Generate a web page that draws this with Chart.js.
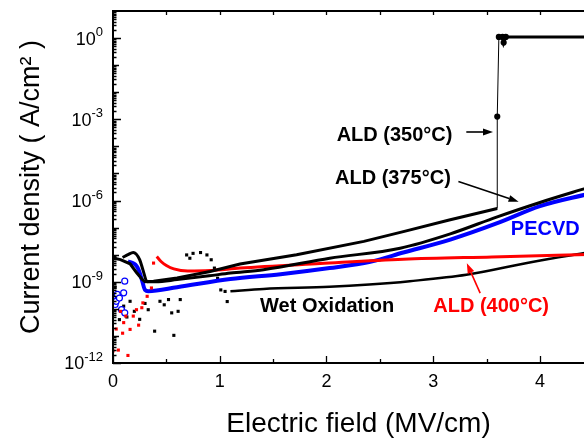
<!DOCTYPE html>
<html>
<head>
<meta charset="utf-8">
<script src="https://cdn.jsdelivr.net/npm/chart.js@4.4.1/dist/chart.umd.min.js"></script>
<style>
  html, body { margin: 0; padding: 0; background: #fff; overflow: hidden; }
  canvas { display: block; }
</style>
</head>
<body>
<canvas id="chart" width="610" height="441"></canvas>
<script>
// ALD (350 °C): leakage curve, breakdown at 3.6 MV/cm, then compliance
const ald350E = [0, 0.07, 0.16, 0.22, 0.27, 0.30, 0.38, 0.60, 0.91, 1.19, 1.72, 2.35, 2.72, 3.15, 3.60, 3.60, 3.615, 3.65, 3.66, 3.68, 4.6];
const ald350J = [7.6e-9, 6.6e-9, 4.6e-9, 2.2e-9, 1.26e-9, 1.0e-9, 1.05e-9, 1.38e-9, 2.4e-9, 4.5e-9, 1.0e-8, 3.1e-8, 7.1e-8, 1.9e-7, 5.1e-7, 1.26e-3, 1.1, 1.1, 0.68, 1.1, 1.1];

// ALD (375 °C)
const ald375E = [0.09, 0.14, 0.19, 0.25, 0.28, 0.32, 0.40, 0.60, 0.90, 1.10, 1.41, 2.03, 2.69, 3.16, 3.60, 4.00, 4.45];
const ald375J = [7.9e-9, 1.0e-8, 1.2e-8, 6.5e-9, 2.8e-9, 1.0e-9, 1.0e-9, 1.2e-9, 1.66e-9, 2.1e-9, 2.8e-9, 7.4e-9, 1.74e-8, 5.9e-8, 2.5e-7, 8.5e-7, 3.0e-6];

// PECVD
const pecvdE = [0.14, 0.18, 0.21, 0.24, 0.27, 0.30, 0.33, 0.60, 1.10, 1.57, 2.03, 2.41, 2.72, 3.16, 3.60, 4.00, 4.45];
const pecvdJ = [5.6e-9, 5.0e-9, 4.3e-9, 2.8e-9, 1.2e-9, 5.0e-10, 4.5e-10, 6.3e-10, 1.26e-9, 1.9e-9, 3.2e-9, 5.5e-9, 1.2e-8, 3.6e-8, 1.45e-7, 6.2e-7, 1.74e-6];
const pecvdLowE = [0.0, 0.02, 0.03, 0.04, 0.06, 0.08, 0.10, 0.11, 0.11];
const pecvdLowJ = [2.9e-10, 1.45e-10, 1.9e-10, 3.4e-10, 2.5e-10, 9.3e-11, 3.9e-10, 1.05e-9, 7.1e-11];

// ALD (400 °C)
const ald400E = [0.41, 0.45, 0.50, 0.57, 0.70, 0.91, 1.19, 1.94, 2.72, 3.55, 4.45];
const ald400J = [8.5e-9, 5.6e-9, 4.0e-9, 3.0e-9, 2.5e-9, 2.6e-9, 3.2e-9, 4.7e-9, 6.8e-9, 8.3e-9, 1.02e-8];
const ald400LowE = [0.00, 0.03, 0.05, 0.07, 0.09, 0.10, 0.12, 0.14, 0.16, 0.19, 0.22, 0.24, 0.27, 0.28, 0.32, 0.36, 0.38];
const ald400LowJ = [2.8e-12, 1.8e-11, 3.0e-12, 8.1e-11, 1.26e-11, 3.1e-11, 5.4e-11, 1.9e-12, 1.74e-11, 5.4e-11, 9.3e-11, 2.5e-11, 1.1e-10, 1.66e-10, 2.9e-10, 5.9e-10, 4.9e-9];

// Wet oxidation
const wetE = [1.10, 1.41, 2.03, 2.40, 2.78, 3.31, 3.94, 4.45];
const wetJ = [4.5e-10, 5.4e-10, 6.5e-10, 7.9e-10, 1.05e-9, 1.8e-9, 5.5e-9, 1.2e-8];
const wetLowE = [0.00, 0.02, 0.06, 0.10, 0.13, 0.16, 0.20, 0.25, 0.30, 0.33, 0.39, 0.44, 0.48, 0.52, 0.55, 0.57, 0.61, 0.63,
                 0.69, 0.72, 0.75, 0.82, 0.88, 0.92, 0.95, 0.98, 1.01, 1.05, 1.07];
const wetLowJ = [2.5e-10, 6.3e-10, 4.0e-11, 1.26e-10, 5.0e-11, 1.9e-10, 8.1e-11, 4.1e-11, 1.58e-10, 9.3e-11, 1.5e-11, 1.9e-10, 1.41e-10, 2.2e-10, 7.1e-11, 1.05e-11, 8.1e-11, 2.2e-10,
                 9.8e-9, 7.4e-9, 1.12e-8, 1.2e-8, 9.8e-9, 6.5e-9, 3.2e-9, 1.35e-9, 5.0e-10, 4.4e-10, 1.86e-10];

// axes
const xTicks = [0, 0.5, 1, 1.5, 2, 2.5, 3, 3.5, 4, 4.5];
const yLabelExps = [0, -3, -6, -9, -12];

const FONT = "'Liberation Sans', Arial, Helvetica, sans-serif";
Chart.defaults.font.family = FONT;
Chart.defaults.color = "#000";

const pts = (xs, ys) => xs.map((x, i) => ({x: x, y: ys[i]}));

// labels and arrows placed in data coordinates
const notes = [
  {text: "ALD (350\u00B0C)", x: 3.18, y: 2.6e-4, align: "right", color: "#000"},
  {text: "ALD (375\u00B0C)", x: 3.165, y: 6.6e-6, align: "right", color: "#000"},
  {text: "PECVD", x: 3.727, y: 8.2e-8, align: "left", color: "#0000ff"},
  {text: "Wet Oxidation", x: 1.378, y: 1.2e-10, align: "left", color: "#000"},
  {text: "ALD (400\u00B0C)", x: 3.0, y: 1.2e-10, align: "left", color: "#ff0000"},
];
const arrows = [
  {x0: 3.31, y0: 3.4e-4, x1: 3.56, y1: 3.4e-4, color: "#000"},
  {x0: 3.236, y0: 5.0e-6, x1: 3.80, y1: 9.1e-7, color: "#000"},
  {x0: 3.44, y0: 3.8e-10, x1: 3.315, y1: 4.8e-9, color: "#ff0000"},
];

const framePlugin = {
  id: "frame",
  afterDatasetsDraw(chart) {
    const {ctx, chartArea: a, scales: {x, y}} = chart;
    ctx.save();
    ctx.strokeStyle = "#000";
    ctx.lineWidth = 2;
    ctx.strokeRect(a.left, a.top, a.right - a.left, a.bottom - a.top);

    ctx.lineWidth = 1.3;
    ctx.beginPath();
    xTicks.forEach(v => {
      const px = Math.round(x.getPixelForValue(v)) + 0.5;
      const major = Number.isInteger(v);
      ctx.moveTo(px, a.bottom);
      ctx.lineTo(px, a.bottom - (major ? 7 : 4));
      ctx.moveTo(px, a.top);
      ctx.lineTo(px, a.top + 4);
    });
    for (let e = -12; e <= 0; e++) {
      for (let m = 1; m <= 9; m++) {
        const py = Math.round(y.getPixelForValue(m * Math.pow(10, e))) + 0.5;
        const len = m === 1 ? (e % 3 === 0 ? 8 : 6) : 3.5;
        ctx.moveTo(a.left, py);
        ctx.lineTo(a.left + len, py);
      }
    }
    ctx.stroke();

    // y tick labels: 10 with superscript exponent
    ctx.fillStyle = "#000";
    ctx.textBaseline = "middle";
    ctx.textAlign = "left";
    yLabelExps.forEach(e => {
      const py = y.getPixelForValue(Math.pow(10, e));
      const expText = e === 0 ? "0" : "-" + Math.abs(e);
      ctx.font = "18px " + FONT;
      const wBase = ctx.measureText("10").width;
      ctx.font = "13px " + FONT;
      const wExp = ctx.measureText(expText).width;
      const right = 103;
      const left = right - wExp - wBase;
      ctx.font = "18px " + FONT;
      ctx.fillText("10", left, py + 1.5);
      ctx.font = "13px " + FONT;
      ctx.fillText(expText, left + wBase, py - 5.5);
    });
    ctx.restore();
  }
};

const notePlugin = {
  id: "notes",
  afterDatasetsDraw(chart) {
    const {ctx, scales: {x, y}} = chart;
    ctx.save();
    ctx.font = "bold 20px " + FONT;
    ctx.textBaseline = "middle";
    notes.forEach(n => {
      ctx.fillStyle = n.color;
      ctx.textAlign = n.align;
      ctx.fillText(n.text, x.getPixelForValue(n.x), y.getPixelForValue(n.y));
    });
    arrows.forEach(ar => {
      const x0 = x.getPixelForValue(ar.x0), y0 = y.getPixelForValue(ar.y0);
      const x1 = x.getPixelForValue(ar.x1), y1 = y.getPixelForValue(ar.y1);
      const ang = Math.atan2(y1 - y0, x1 - x0);
      const head = 10, half = 3.5;
      ctx.strokeStyle = ar.color;
      ctx.fillStyle = ar.color;
      ctx.lineWidth = 1.6;
      ctx.beginPath();
      ctx.moveTo(x0, y0);
      ctx.lineTo(x1 - head * Math.cos(ang), y1 - head * Math.sin(ang));
      ctx.stroke();
      ctx.beginPath();
      ctx.moveTo(x1, y1);
      ctx.lineTo(x1 - head * Math.cos(ang) + half * Math.sin(ang), y1 - head * Math.sin(ang) - half * Math.cos(ang));
      ctx.lineTo(x1 - head * Math.cos(ang) - half * Math.sin(ang), y1 - head * Math.sin(ang) + half * Math.cos(ang));
      ctx.closePath();
      ctx.fill();
    });
    ctx.restore();
  }
};

new Chart(document.getElementById("chart"), {
  type: "scatter",
  data: {
    datasets: [
      {
        label: "ALD (350°C)",
        data: pts(ald350E, ald350J),
        showLine: true,
        borderColor: "#000",
        backgroundColor: "#000",
        borderWidth: 3,
        segment: {
          borderWidth: c => (Math.abs(Math.log10(c.p1.parsed.y / c.p0.parsed.y)) > 1 ? 1 : 3)
        },
        pointRadius: c => (c.raw && c.raw.y > 1e-4 && c.raw.x < 3.7 ? 1.6 : 0),
      },
      {
        label: "ALD (375°C)",
        data: pts(ald375E, ald375J),
        showLine: true,
        cubicInterpolationMode: "monotone",
        borderColor: "#000",
        borderWidth: 3,
        pointRadius: 0,
      },
      {
        label: "ALD (400°C)",
        data: pts(ald400E, ald400J),
        showLine: true,
        cubicInterpolationMode: "monotone",
        borderColor: "#ff0000",
        borderWidth: 3,
        pointRadius: 0,
      },
      {
        label: "ALD (400°C) low field",
        data: pts(ald400LowE, ald400LowJ),
        pointStyle: "rect",
        pointRadius: 2.2,
        borderWidth: 0,
        backgroundColor: "#ff0000",
      },
      {
        label: "PECVD",
        data: pts(pecvdE, pecvdJ),
        showLine: true,
        cubicInterpolationMode: "monotone",
        borderColor: "#0000ff",
        borderWidth: 4,
        pointRadius: 0,
      },
      {
        label: "PECVD low field",
        data: pts(pecvdLowE, pecvdLowJ),
        pointStyle: "circle",
        pointRadius: 3,
        borderWidth: 1.2,
        borderColor: "#0000ff",
        backgroundColor: "#fff",
      },
      {
        label: "Wet Oxidation",
        data: pts(wetE, wetJ),
        showLine: true,
        cubicInterpolationMode: "monotone",
        borderColor: "#000",
        borderWidth: 2.5,
        pointRadius: 0,
      },
      {
        label: "Wet Oxidation low field",
        data: pts(wetLowE, wetLowJ),
        pointStyle: "rect",
        pointRadius: 2.2,
        borderWidth: 0,
        backgroundColor: "#000",
      },
    ]
  },
  options: {
    responsive: false,
    animation: false,
    layout: { padding: { left: 0, top: 11, right: 6, bottom: 0 } },
    plugins: {
      legend: { display: false },
      tooltip: { enabled: false }
    },
    scales: {
      x: {
        type: "linear",
        position: "bottom",
        min: 0,
        max: 4.6,
        grid: { display: false, drawTicks: false },
        border: { display: false },
        afterBuildTicks: s => { s.ticks = xTicks.map(v => ({value: v})); },
        afterFit: s => { s.height = 78; },
        ticks: {
          autoSkip: false,
          maxRotation: 0,
          padding: 8,
          font: { size: 18 },
          color: "#000",
          callback: v => (Number.isInteger(v) ? String(v) : "")
        },
        title: {
          display: true,
          text: "Electric field (MV/cm)",
          font: { size: 28 },
          color: "#000",
          padding: { top: 0, bottom: 0 }
        }
      },
      y: {
        type: "logarithmic",
        min: 1e-12,
        max: 10,
        grid: { display: false },
        border: { display: false },
        ticks: { display: false },
        afterFit: s => { s.width = 113; },
        title: {
          display: true,
          text: "Current density ( A/cm\u00B2 )",
          font: { size: 27 },
          color: "#000",
          padding: { top: 15, bottom: 0 }
        }
      }
    }
  },
  plugins: [framePlugin, notePlugin]
});
</script>
</body>
</html>
